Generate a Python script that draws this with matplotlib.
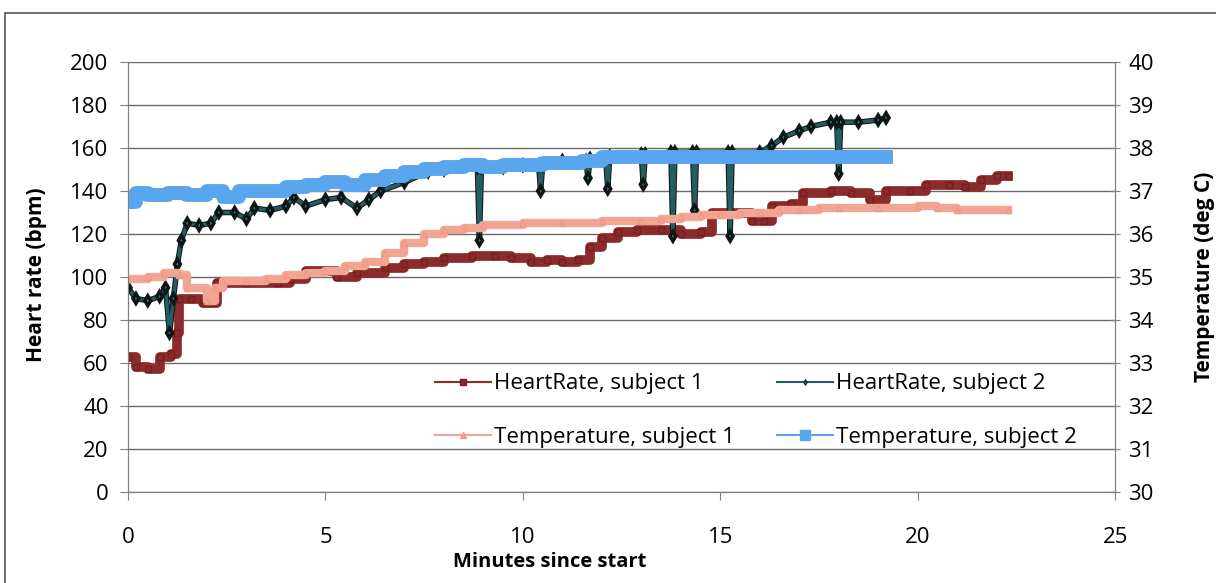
import matplotlib
matplotlib.use("Agg")
import matplotlib.pyplot as plt
import matplotlib.patheffects as pe
from matplotlib.patches import Rectangle

plt.rcParams['font.family'] = ['Open Sans', 'DejaVu Sans']

# minutes since start, heart rate (bpm) - subject 1
hr1_t = [0.0, 0.2, 0.5, 0.8, 1.1, 1.25, 1.3, 1.6, 1.9, 2.1, 2.25, 3.0, 3.8, 4.1,
         4.5, 5.0, 5.3, 5.8, 6.5, 7.0, 7.5, 8.0, 8.7, 9.3, 9.7, 10.2, 10.6, 11.0,
         11.4, 11.7, 12.0, 12.4, 12.9, 13.5, 14.0, 14.5, 14.8, 15.4, 15.8, 16.1,
         16.3, 16.8, 17.1, 17.8, 18.3, 18.8, 19.2, 19.8, 20.2, 20.8, 21.2, 21.6,
         22.0, 22.3]
hr1 = [63, 58, 57, 63, 64, 74, 90, 90, 88, 88, 97, 97, 97, 99,
       103, 103, 100, 102, 104, 106, 107, 109, 110, 110, 109, 107, 108, 107,
       108, 114, 118, 121, 122, 122, 120, 121, 130, 130, 126, 126,
       133, 134, 139, 140, 139, 136, 140, 140, 143, 143, 142, 145,
       147, 147]

# heart rate - subject 2
hr2_t = [0.0, 0.2, 0.5, 0.8, 0.95, 1.05, 1.15, 1.25, 1.35, 1.5, 1.8, 2.1, 2.3,
         2.7, 3.0, 3.2, 3.6, 4.0, 4.2, 4.5, 5.0, 5.4, 5.8, 6.1, 6.4, 7.0, 7.6,
         8.0, 8.85, 8.9, 8.95, 9.5, 10.0, 10.4, 10.45, 10.5, 11.0, 11.6, 11.65,
         11.7, 12.1, 12.15, 12.2, 13.0, 13.05, 13.1, 13.75, 13.8, 13.85, 14.3,
         14.35, 14.4, 15.2, 15.25, 15.3, 16.0, 16.3, 16.6, 17.0, 17.3, 17.8,
         17.95, 18.0, 18.05, 18.5, 19.0, 19.2]
hr2 = [95, 90, 89, 91, 95, 74, 90, 106, 117, 125, 124, 125, 130,
       130, 127, 132, 131, 133, 137, 133, 136, 137, 132, 136, 140, 144, 149,
       150, 151, 117, 151, 151, 152, 152, 140, 152, 154, 154, 146,
       155, 155, 141, 156, 157, 143, 157, 158, 119, 158, 158,
       131, 158, 158, 119, 158, 158, 161, 165, 168, 170, 172,
       172, 148, 172, 172, 173, 174]

# temperature (deg C) - subject 1
t1_t = [0.0, 0.5, 0.9, 1.3, 1.5, 2.0, 2.2, 2.4, 3.0, 3.5, 4.0, 4.5, 5.0, 5.5,
        6.0, 6.5, 7.0, 7.5, 8.0, 8.5, 9.0, 10.0, 11.0, 12.0, 13.0, 13.5, 14.0,
        14.5, 15.0, 15.5, 16.0, 16.5, 17.0, 17.5, 18.0, 19.0, 20.0, 20.5, 21.0,
        22.3]
temp1 = [34.95, 35.0, 35.1, 35.05, 34.75, 34.45, 34.75, 34.9, 34.9, 34.95,
         35.05, 35.1, 35.15, 35.25, 35.35, 35.55, 35.8, 36.0, 36.1, 36.15, 36.2,
         36.25, 36.25, 36.3, 36.3, 36.35, 36.4, 36.45, 36.45, 36.5, 36.5, 36.55,
         36.55, 36.6, 36.6, 36.6, 36.65, 36.6, 36.55, 36.55]

# temperature - subject 2
t2_t = [0.0, 0.2, 0.5, 1.0, 1.5, 2.0, 2.4, 2.8, 3.5, 4.0, 4.5, 5.0, 5.5, 6.0,
        6.5, 7.0, 7.5, 8.0, 8.5, 9.0, 9.5, 10.0, 10.5, 11.0, 11.5, 12.0, 13.0,
        14.0, 15.0, 16.0, 17.0, 18.0, 19.2]
temp2 = [36.75, 36.95, 36.9, 36.95, 36.9, 37.0, 36.85, 37.0, 37.0, 37.1, 37.15,
         37.2, 37.15, 37.25, 37.35, 37.45, 37.5, 37.55, 37.6, 37.55, 37.6, 37.6,
         37.65, 37.65, 37.7, 37.8, 37.8, 37.8, 37.8, 37.8, 37.8, 37.8, 37.8]

fig = plt.figure(figsize=(12.16, 5.83), dpi=100)
ax = fig.add_axes([0.1053, 0.156, 0.8117, 0.7377])
ax2 = ax.twinx()

ax.plot(hr1_t, hr1, color='#8b2b2b', lw=7, drawstyle='steps-post',
        marker='s', ms=5, mfc='#8b2b2b', mec='#7a1f1f',
        label='HeartRate, subject 1')
ax.plot(hr2_t, hr2, color='#245e60', lw=2.5, marker='d', ms=3,
        mfc='#2c6e70', mec='black', mew=0.6, label='HeartRate, subject 2',
        path_effects=[pe.Stroke(linewidth=4, foreground='#101818'), pe.Normal()])
ax2.plot(t1_t, temp1, color='#f3a594', lw=6, drawstyle='steps-post',
         marker='^', ms=4, mfc='#f3a594', mec='#ef9a88',
         label='Temperature, subject 1')
ax2.plot(t2_t, temp2, color='#5aa6ee', lw=10, drawstyle='steps-post',
         marker='s', ms=7, mfc='#5aa6ee', mec='#5aa6ee',
         label='Temperature, subject 2')

ax.set_xlim(0, 25)
ax.set_ylim(0, 200)
ax2.set_ylim(30, 40)
ax.set_xticks(range(0, 26, 5))
ax.set_yticks(range(0, 201, 20))
ax2.set_yticks(range(30, 41, 1))

ax.grid(axis='y', color='#6a6a6a', lw=1)
ax.set_axisbelow(True)
ax.spines['top'].set_visible(False)
ax2.spines['top'].set_visible(False)
for a in (ax, ax2):
    for s in a.spines.values():
        s.set_color('#808080')
ax.tick_params(axis='both', labelsize=16, color='#808080', length=6)
ax2.tick_params(axis='y', labelsize=16, color='#808080', length=7,
                direction='inout', pad=6)
ax.tick_params(axis='x', pad=19)
ax.tick_params(axis='y', pad=8)

ax.set_xlabel('Minutes since start', fontsize=14.5, fontweight='bold')
ax.xaxis.set_label_coords(0.4276, -0.14)
ax.set_ylabel('Heart rate (bpm)', fontsize=15, fontweight='bold')
ax.yaxis.set_label_coords(-0.082, 0.505)
ax2.set_ylabel('Temperature (deg C)', fontsize=15, fontweight='bold')
ax2.yaxis.set_label_coords(1.08, 0.5)

h1, l1 = ax.get_legend_handles_labels()
h2, l2 = ax2.get_legend_handles_labels()
# column-wise fill so that rows read HR1, HR2 / T1, T2
handles = [h1[0], h2[0], h1[1], h2[1]]
labels = [l1[0], l2[0], l1[1], l2[1]]
leg = ax2.legend(handles, labels, ncol=2, frameon=False, fontsize=16,
                 loc='upper left', bbox_to_anchor=(0.311, 0.276),
                 borderpad=0, borderaxespad=0,
                 handlelength=2.5, handletextpad=0.15, columnspacing=1.9,
                 labelspacing=1.45)
for h in leg.legend_handles:
    h.set_linewidth(1.5)
    h.set_path_effects([])

# chart area border
fig.patches.append(Rectangle((0.004, -0.05), 1.2, 1.028, transform=fig.transFigure,
                             fill=False, edgecolor='#555555', lw=1.2))

fig.savefig('out.png', dpi=100)
